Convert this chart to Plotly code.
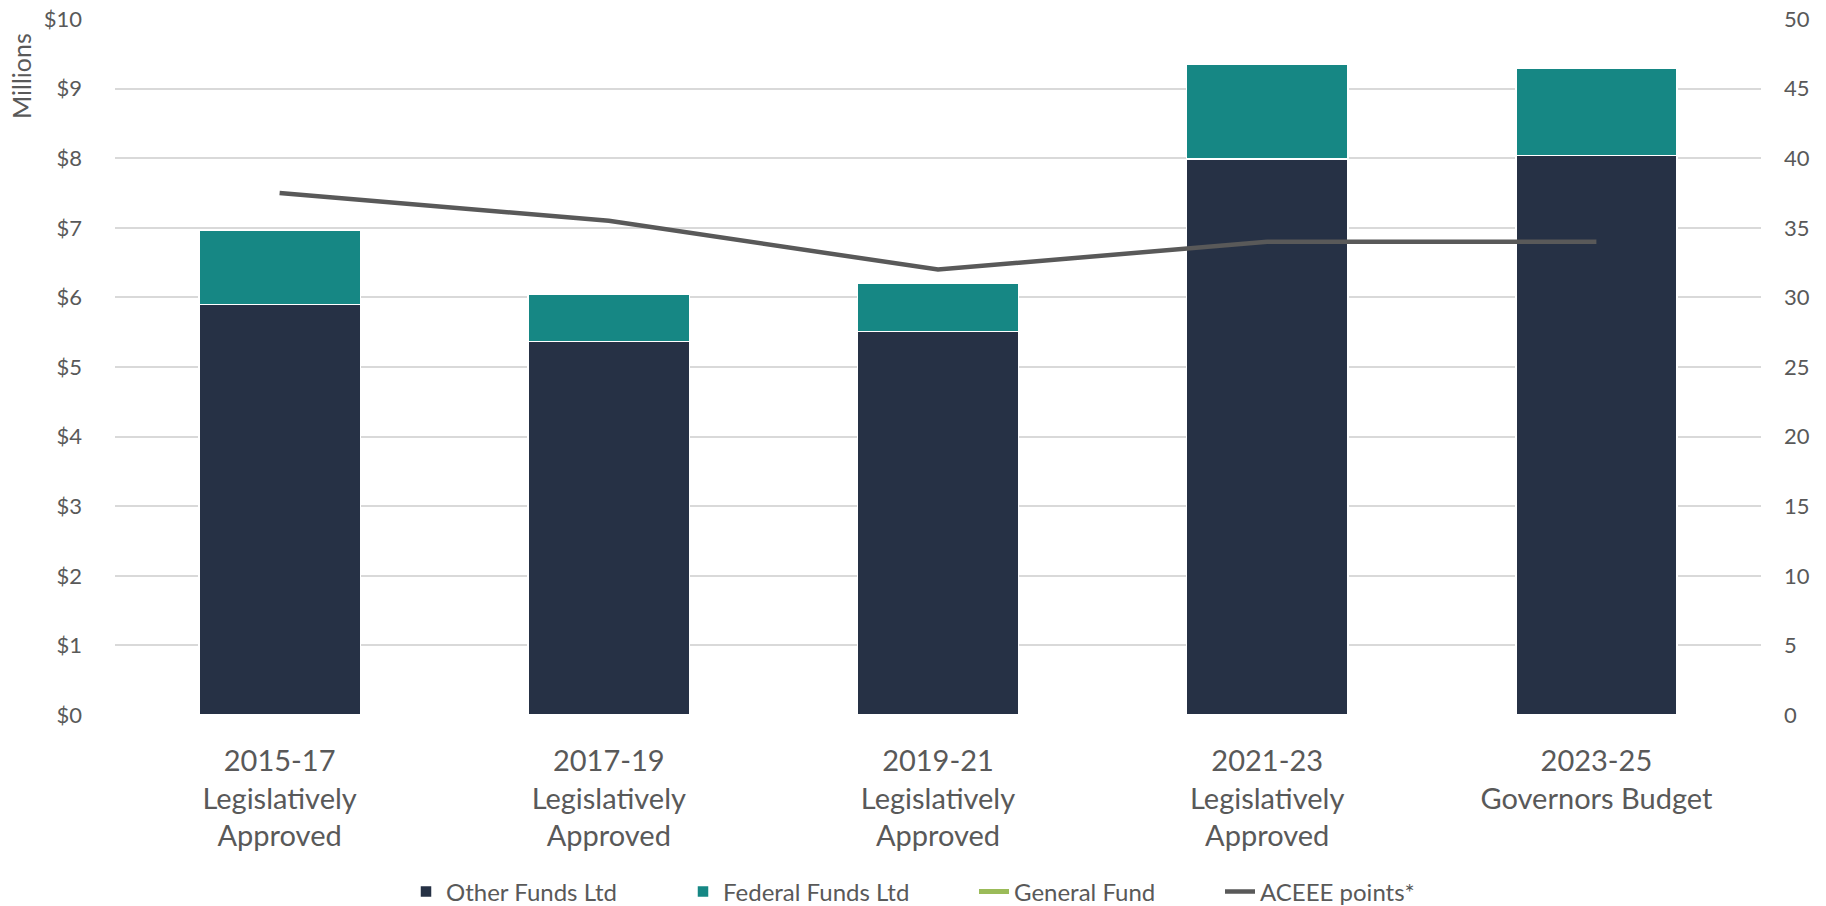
import plotly.graph_objects as go

categories = ["2015-17<br>Legislatively<br>Approved", "2017-19<br>Legislatively<br>Approved",
              "2019-21<br>Legislatively<br>Approved", "2021-23<br>Legislatively<br>Approved",
              "2023-25<br>Governors Budget"]
other_funds = [5.90, 5.37, 5.51, 7.99, 8.04]
federal_funds = [1.07, 0.67, 0.70, 1.36, 1.25]
general_fund = [None, None, None, None, None]
aceee_points = [37.5, 35.5, 32.0, 34.0, 34.0]
left_ticks = [0, 1, 2, 3, 4, 5, 6, 7, 8, 9, 10]
left_labels = ["$" + str(v) for v in left_ticks]
right_ticks = [0, 5, 10, 15, 20, 25, 30, 35, 40, 45, 50]

FONT = "Lato, 'Open Sans', sans-serif"
GREY = "#595959"
W, H = 1826, 906
L, T, R, B = 115, 19, 65, 191
PW, PH = W - L - R, H - T - B


def px_x(px):  # page pixel -> paper fraction
    return (px - L) / PW


def px_y(py):
    return (H - B - py) / PH


fig = go.Figure()
fig.add_trace(go.Bar(x=categories, y=other_funds, name="Other Funds Ltd", legend="legend",
                     marker=dict(color="#263145", line=dict(color="white", width=1.5))))
fig.add_trace(go.Bar(x=categories, y=federal_funds, name="Federal Funds Ltd", legend="legend2",
                     marker=dict(color="#168784", line=dict(color="white", width=1.5))))
fig.add_trace(go.Scatter(x=categories, y=general_fund, name="General Fund", mode="lines",
                         legend="legend3", line=dict(color="#9BBB59", width=5)))
fig.add_trace(go.Scatter(x=categories, y=aceee_points, name="ACEEE points*", mode="lines",
                         legend="legend4", line=dict(color=GREY, width=4.5), yaxis="y2"))

legend_text_starts = [446, 723, 1014, 1260]
leg_common = dict(orientation="h", xanchor="left", y=px_y(892), yanchor="middle",
                  font=dict(size=24, color=GREY), bgcolor="rgba(0,0,0,0)")
legends = {}
for i, xs in enumerate(legend_text_starts):
    key = "legend" if i == 0 else "legend%d" % (i + 1)
    legends[key] = dict(leg_common, x=px_x(xs - 40))

fig.update_layout(
    width=W, height=H,
    barmode="stack", bargap=0.51,
    plot_bgcolor="white", paper_bgcolor="white",
    margin=dict(l=L, r=R, t=T, b=B, autoexpand=False),
    font=dict(family=FONT, color=GREY, size=20),
    xaxis=dict(tickfont=dict(size=29, color=GREY), showgrid=False, showline=False,
               ticks="", ticklabelstandoff=26),
    yaxis=dict(range=[0, 10], tickvals=left_ticks, ticktext=left_labels,
               tickfont=dict(size=22, color=GREY), showgrid=True, gridcolor="#D9D9D9",
               gridwidth=1.5, zeroline=False, showline=False, ticks="", ticklabelstandoff=32,
               ticklabeloverflow="allow"),
    yaxis2=dict(range=[0, 50], tickvals=right_ticks, overlaying="y", side="right",
                tickfont=dict(size=22, color=GREY), showgrid=False, zeroline=False,
                showline=False, ticks="", ticklabelstandoff=22, ticklabeloverflow="allow"),
    annotations=[dict(text="Millions", textangle=-90, xref="paper", yref="paper",
                      x=px_x(21), xanchor="center", y=px_y(31), yanchor="top",
                      showarrow=False, font=dict(size=25, color=GREY))],
    showlegend=True,
    **legends,
)
fig.write_html("out.html", config={"displayModeBar": False},
               post_script="document.body.style.margin='0';document.body.style.overflow='hidden';")
